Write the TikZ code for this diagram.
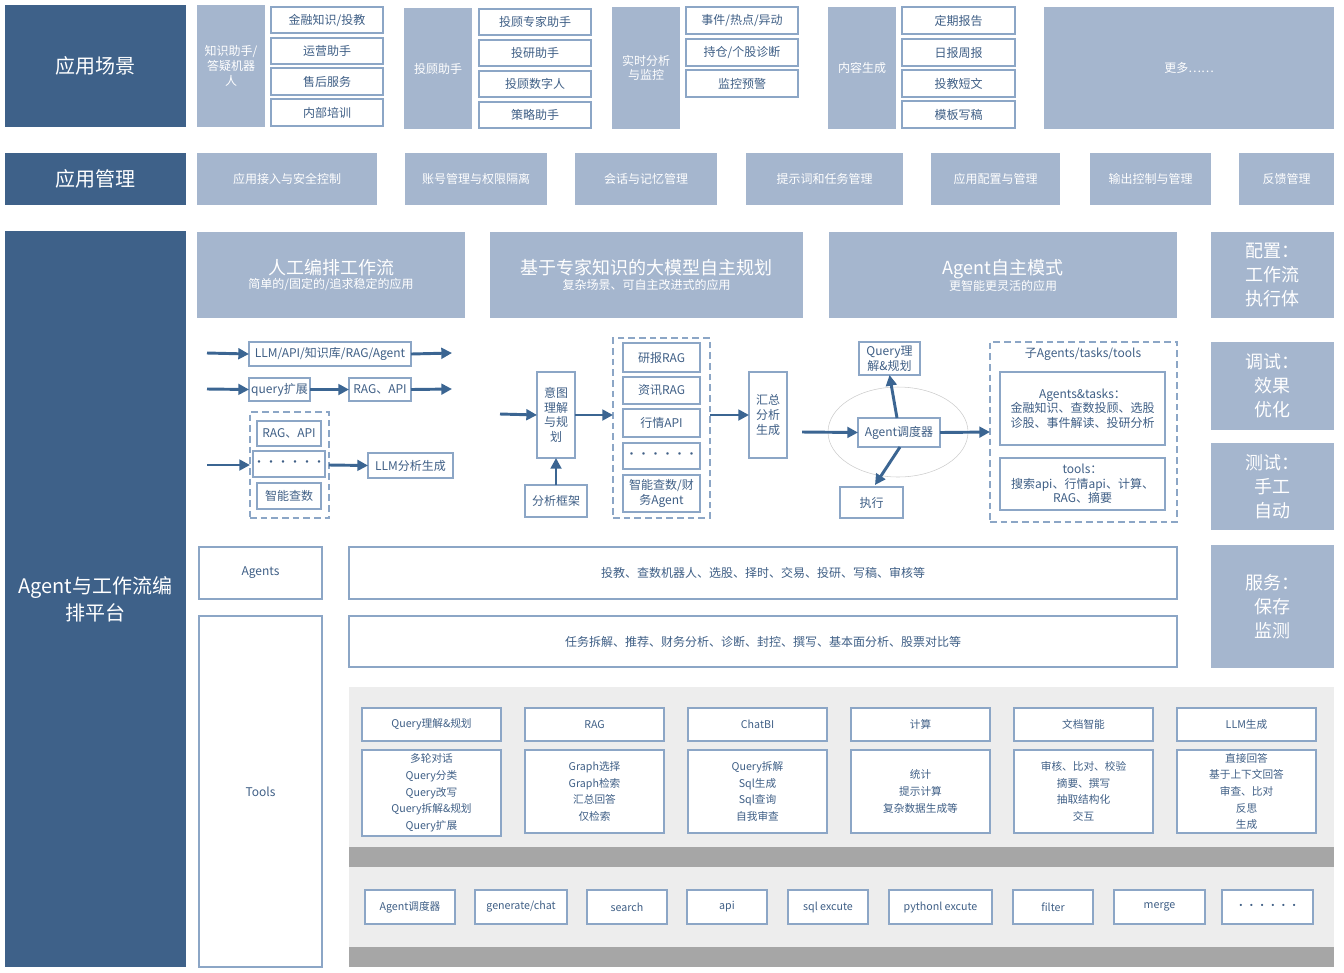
\documentclass[tikz,border=0pt]{standalone}
\usepackage{fontspec}
\setmainfont{Noto Sans CJK SC}
\usetikzlibrary{arrows.meta,shapes.geometric}
\definecolor{dk}{HTML}{3E6189}
\definecolor{lt}{HTML}{A5B6CE}
\definecolor{bd}{HTML}{8CA6C6}
\definecolor{tx}{HTML}{3F5F86}
\definecolor{ar}{HTML}{3B6592}
\definecolor{pg}{HTML}{EDEDED}
\definecolor{gb}{HTML}{A6A6A6}
\newcommand\bx[7]{\node[#6,minimum width={(#4-#2)*0.75pt},minimum height={(#5-#3)*0.75pt}] (#1) at ({(#2+#4)/2},{(#3+#5)/2}) {#7};}
\begin{document}
\begin{tikzpicture}[x=0.75pt,y=-0.75pt,
 base/.style={inner sep=0pt,outer sep=0pt,align=center,font=\fontsize{9}{11}\selectfont},
 dark/.style={base,fill=dk,text=white,font=\fontsize{15}{20}\selectfont},
 light/.style={base,fill=lt,text=white},
 wb/.style={base,draw=bd,fill=white,text=tx,line width=0.8pt},
 sm/.style={wb,font=\fontsize{8}{12.5}\selectfont},
 dsh/.style={base,draw=bd,dashed,line width=1.2pt,dash pattern=on 5pt off 3pt},
 arr/.style={draw=ar,line width=2.2pt,-{Triangle[length=8pt,width=8pt]}},
 gband/.style={base,fill=gb},
 pgs/.style={base,fill=pg}]
\useasboundingbox (0,0) rectangle (1344,972);
% row 1
\bx{s0}{5}{5}{186}{127}{dark}{应用场景}
\bx{s1}{197}{5}{265}{127}{light}{知识助手/\\答疑机器\\人}
\bx{s1a}{271}{7}{383}{33}{wb}{金融知识/投教}
\bx{s1b}{271}{38}{383}{64}{wb}{运营助手}
\bx{s1c}{271}{68}{383}{95}{wb}{售后服务}
\bx{s1d}{271}{99}{383}{126}{wb}{内部培训}
\bx{s2}{404}{8}{472}{129}{light}{投顾助手}
\bx{s2a}{479}{9}{591}{35}{wb}{投顾专家助手}
\bx{s2b}{479}{40}{591}{66}{wb}{投研助手}
\bx{s2c}{479}{71}{591}{97}{wb}{投顾数字人}
\bx{s2d}{479}{102}{591}{128}{wb}{策略助手}
\bx{s3}{612}{7}{680}{129}{light}{实时分析\\与监控}
\bx{s3a}{686}{7}{798}{34}{wb}{事件/热点/异动}
\bx{s3b}{686}{39}{798}{66}{wb}{持仓/个股诊断}
\bx{s3c}{686}{70}{798}{97}{wb}{监控预警}
\bx{s4}{828}{7}{896}{129}{light}{内容生成}
\bx{s4a}{902}{7}{1015}{34}{wb}{定期报告}
\bx{s4b}{902}{39}{1015}{66}{wb}{日报周报}
\bx{s4c}{902}{70}{1015}{97}{wb}{投教短文}
\bx{s4d}{902}{101}{1015}{128}{wb}{模板写稿}
\bx{s5}{1044}{7}{1334}{129}{light}{更多……}
% row 2
\bx{m0}{5}{153}{186}{205}{dark}{应用管理}
\bx{m1}{197}{153}{377}{205}{light}{应用接入与安全控制}
\bx{m2}{405}{153}{547}{205}{light}{账号管理与权限隔离}
\bx{m3}{575}{153}{717}{205}{light}{会话与记忆管理}
\bx{m4}{746}{153}{903}{205}{light}{提示词和任务管理}
\bx{m5}{931}{153}{1060}{205}{light}{应用配置与管理}
\bx{m6}{1090}{153}{1211}{205}{light}{输出控制与管理}
\bx{m7}{1239}{153}{1334}{205}{light}{反馈管理}
% platform
\bx{p0}{5}{231}{186}{967}{dark}{Agent与工作流编\\排平台}
\bx{h1}{197}{232}{465}{318}{light}{{\fontsize{13.5}{17}\selectfont 人工编排工作流}\\简单的/固定的/追求稳定的应用}
\bx{h2}{490}{232}{803}{318}{light}{{\fontsize{13.5}{17}\selectfont 基于专家知识的大模型自主规划}\\复杂场景、可自主改进式的应用}
\bx{h3}{829}{232}{1177}{318}{light}{{\fontsize{13.5}{17}\selectfont Agent自主模式}\\更智能更灵活的应用}
\bx{r1}{1211}{232}{1334}{318}{light,font=\fontsize{13.5}{18}\selectfont}{配置：\\工作流\\执行体}
\bx{r2}{1211}{342}{1334}{430}{light,font=\fontsize{13.5}{18}\selectfont}{调试：\\效果\\优化}
\bx{r3}{1211}{443}{1334}{530}{light,font=\fontsize{13.5}{18}\selectfont}{测试：\\手工\\自动}
\bx{r4}{1211}{545}{1334}{668}{light,font=\fontsize{13.5}{18}\selectfont}{服务：\\保存\\监测}
% flow 1
\coordinate (a1s) at (207,353); \coordinate (a1e) at (452,353);
\coordinate (a2s) at (207,389); \coordinate (a2e) at (452,389);
\coordinate (a3s) at (207,465);
\bx{f1}{249}{342}{411}{366}{wb}{LLM/API/知识库/RAG/Agent}
\bx{f2}{249}{378}{310}{401}{wb}{query扩展}
\bx{f3}{349}{378}{411}{401}{wb}{RAG、API}
\bx{fd}{250}{412}{329}{518}{dsh}{}
\bx{f4}{257}{421}{321}{446}{wb}{RAG、API}
\bx{f5}{257}{451}{321}{477}{wb}{······}
\bx{f6}{257}{483}{321}{509}{wb}{智能查数}
\bx{f7}{368}{453}{453}{478}{wb}{LLM分析生成}
\draw[arr] (a1s) -- (f1.west); \draw[arr] (f1.east) -- (a1e);
\draw[arr] (a2s) -- (f2.west); \draw[arr] (f2.east) -- (f3.west); \draw[arr] (f3.east) -- (a2e);
\draw[arr] (a3s) -- (fd.west); \draw[arr] (fd.east) -- (f7.west);
% flow 2
\coordinate (b0) at (500,414);
\bx{g1}{537}{372}{575}{458}{wb}{意图\\理解\\与规\\划}
\bx{g2}{525}{485}{587}{517}{wb}{分析框架}
\bx{gd}{613}{338}{710}{518}{dsh}{}
\bx{g3}{623}{343}{700}{372}{wb}{研报RAG}
\bx{g4}{623}{377}{700}{404}{wb}{资讯RAG}
\bx{g5}{623}{409}{700}{437}{wb}{行情API}
\bx{g6}{623}{443}{700}{469}{wb}{······}
\bx{g7}{623}{475}{700}{512}{wb}{智能查数/财\\务Agent}
\bx{g8}{749}{372}{787}{458}{wb}{汇总\\分析\\生成}
\draw[arr] (b0) -- (g1.west); \draw[arr] (g1.east) -- (g1.east -| gd.west);
\draw[arr] (g2.north) -- (g1.south); \draw[arr] (gd.east |- g8.west) -- (g8.west);
% flow 3
\node[draw=gray!40,fill=white,ellipse,minimum width={140*0.75pt},minimum height={90*0.75pt},inner sep=0pt] (el) at (898,432) {};
\coordinate (c0) at (802,432);
\bx{k1}{858}{418}{940}{447}{wb}{Agent调度器}
\bx{k2}{859}{342}{920}{375}{wb}{Query理\\解\&规划}
\bx{k3}{840}{487}{903}{518}{wb}{执行}
\bx{kd}{990}{342}{1177}{522}{dsh}{}
\node[base,text=tx] (kt) at (1083,354) {子Agents/tasks/tools};
\bx{k4}{1000}{372}{1165}{445}{wb}{Agents\&tasks：\\金融知识、查数投顾、选股\\诊股、事件解读、投研分析}
\bx{k5}{1000}{458}{1165}{510}{wb}{tools：\\搜索api、行情api、计算、\\RAG、摘要}
\coordinate (k1t) at (897,418); \coordinate (k1b) at (900,447); \coordinate (k3t) at (875,485);
\draw[arr] (c0) -- (k1.west); \draw[arr] (k1.east) -- (kd.west);
\draw[arr] (k1t) -- (k2.south); \draw[arr] (k1b) -- (k3t);
% agents/tools
\bx{t1}{199}{547}{322}{599}{wb}{Agents}
\bx{t2}{349}{547}{1177}{599}{wb}{投教、查数机器人、选股、择时、交易、投研、写稿、审核等}
\bx{t3}{199}{616}{322}{967}{wb}{Tools}
\bx{t4}{349}{616}{1177}{667}{wb}{任务拆解、推荐、财务分析、诊断、封控、撰写、基本面分析、股票对比等}
\bx{pg}{349}{687}{1334}{967}{pgs}{}
\bx{gb1}{349}{847}{1334}{867}{gband}{}
\bx{gb2}{349}{947}{1334}{967}{gband}{}
\bx{u1}{362}{708}{501}{741}{sm}{Query理解\&规划}
\bx{u2}{525}{708}{664}{741}{sm}{RAG}
\bx{u3}{688}{708}{827}{741}{sm}{ChatBI}
\bx{u4}{851}{708}{990}{741}{sm}{计算}
\bx{u5}{1014}{708}{1153}{741}{sm}{文档智能}
\bx{u6}{1177}{708}{1316}{741}{sm}{LLM生成}
\bx{v1}{362}{750}{501}{836}{sm}{多轮对话\\Query分类\\Query改写\\Query拆解\&规划\\Query扩展}
\bx{v2}{525}{750}{664}{833}{sm}{Graph选择\\Graph检索\\汇总回答\\仅检索}
\bx{v3}{688}{750}{827}{833}{sm}{Query拆解\\Sql生成\\Sql查询\\自我审查}
\bx{v4}{851}{750}{990}{833}{sm}{统计\\提示计算\\复杂数据生成等}
\bx{v5}{1014}{750}{1153}{833}{sm}{审核、比对、校验\\摘要、撰写\\抽取结构化\\交互}
\bx{v6}{1177}{750}{1316}{833}{sm}{直接回答\\基于上下文回答\\审查、比对\\反思\\生成}
\bx{w1}{365}{890}{455}{924}{sm}{Agent调度器}
\bx{w2}{475}{890}{567}{924}{sm}{generate/chat}
\bx{w3}{587}{890}{667}{924}{sm}{search}
\bx{w4}{687}{890}{767}{924}{sm}{api}
\bx{w5}{788}{890}{868}{924}{sm}{sql excute}
\bx{w6}{889}{890}{992}{924}{sm}{pythonl excute}
\bx{w7}{1013}{890}{1093}{924}{sm}{filter}
\bx{w8}{1114}{890}{1205}{924}{sm}{merge}
\bx{w9}{1222}{890}{1313}{924}{sm}{······}
\end{tikzpicture}
\end{document}
